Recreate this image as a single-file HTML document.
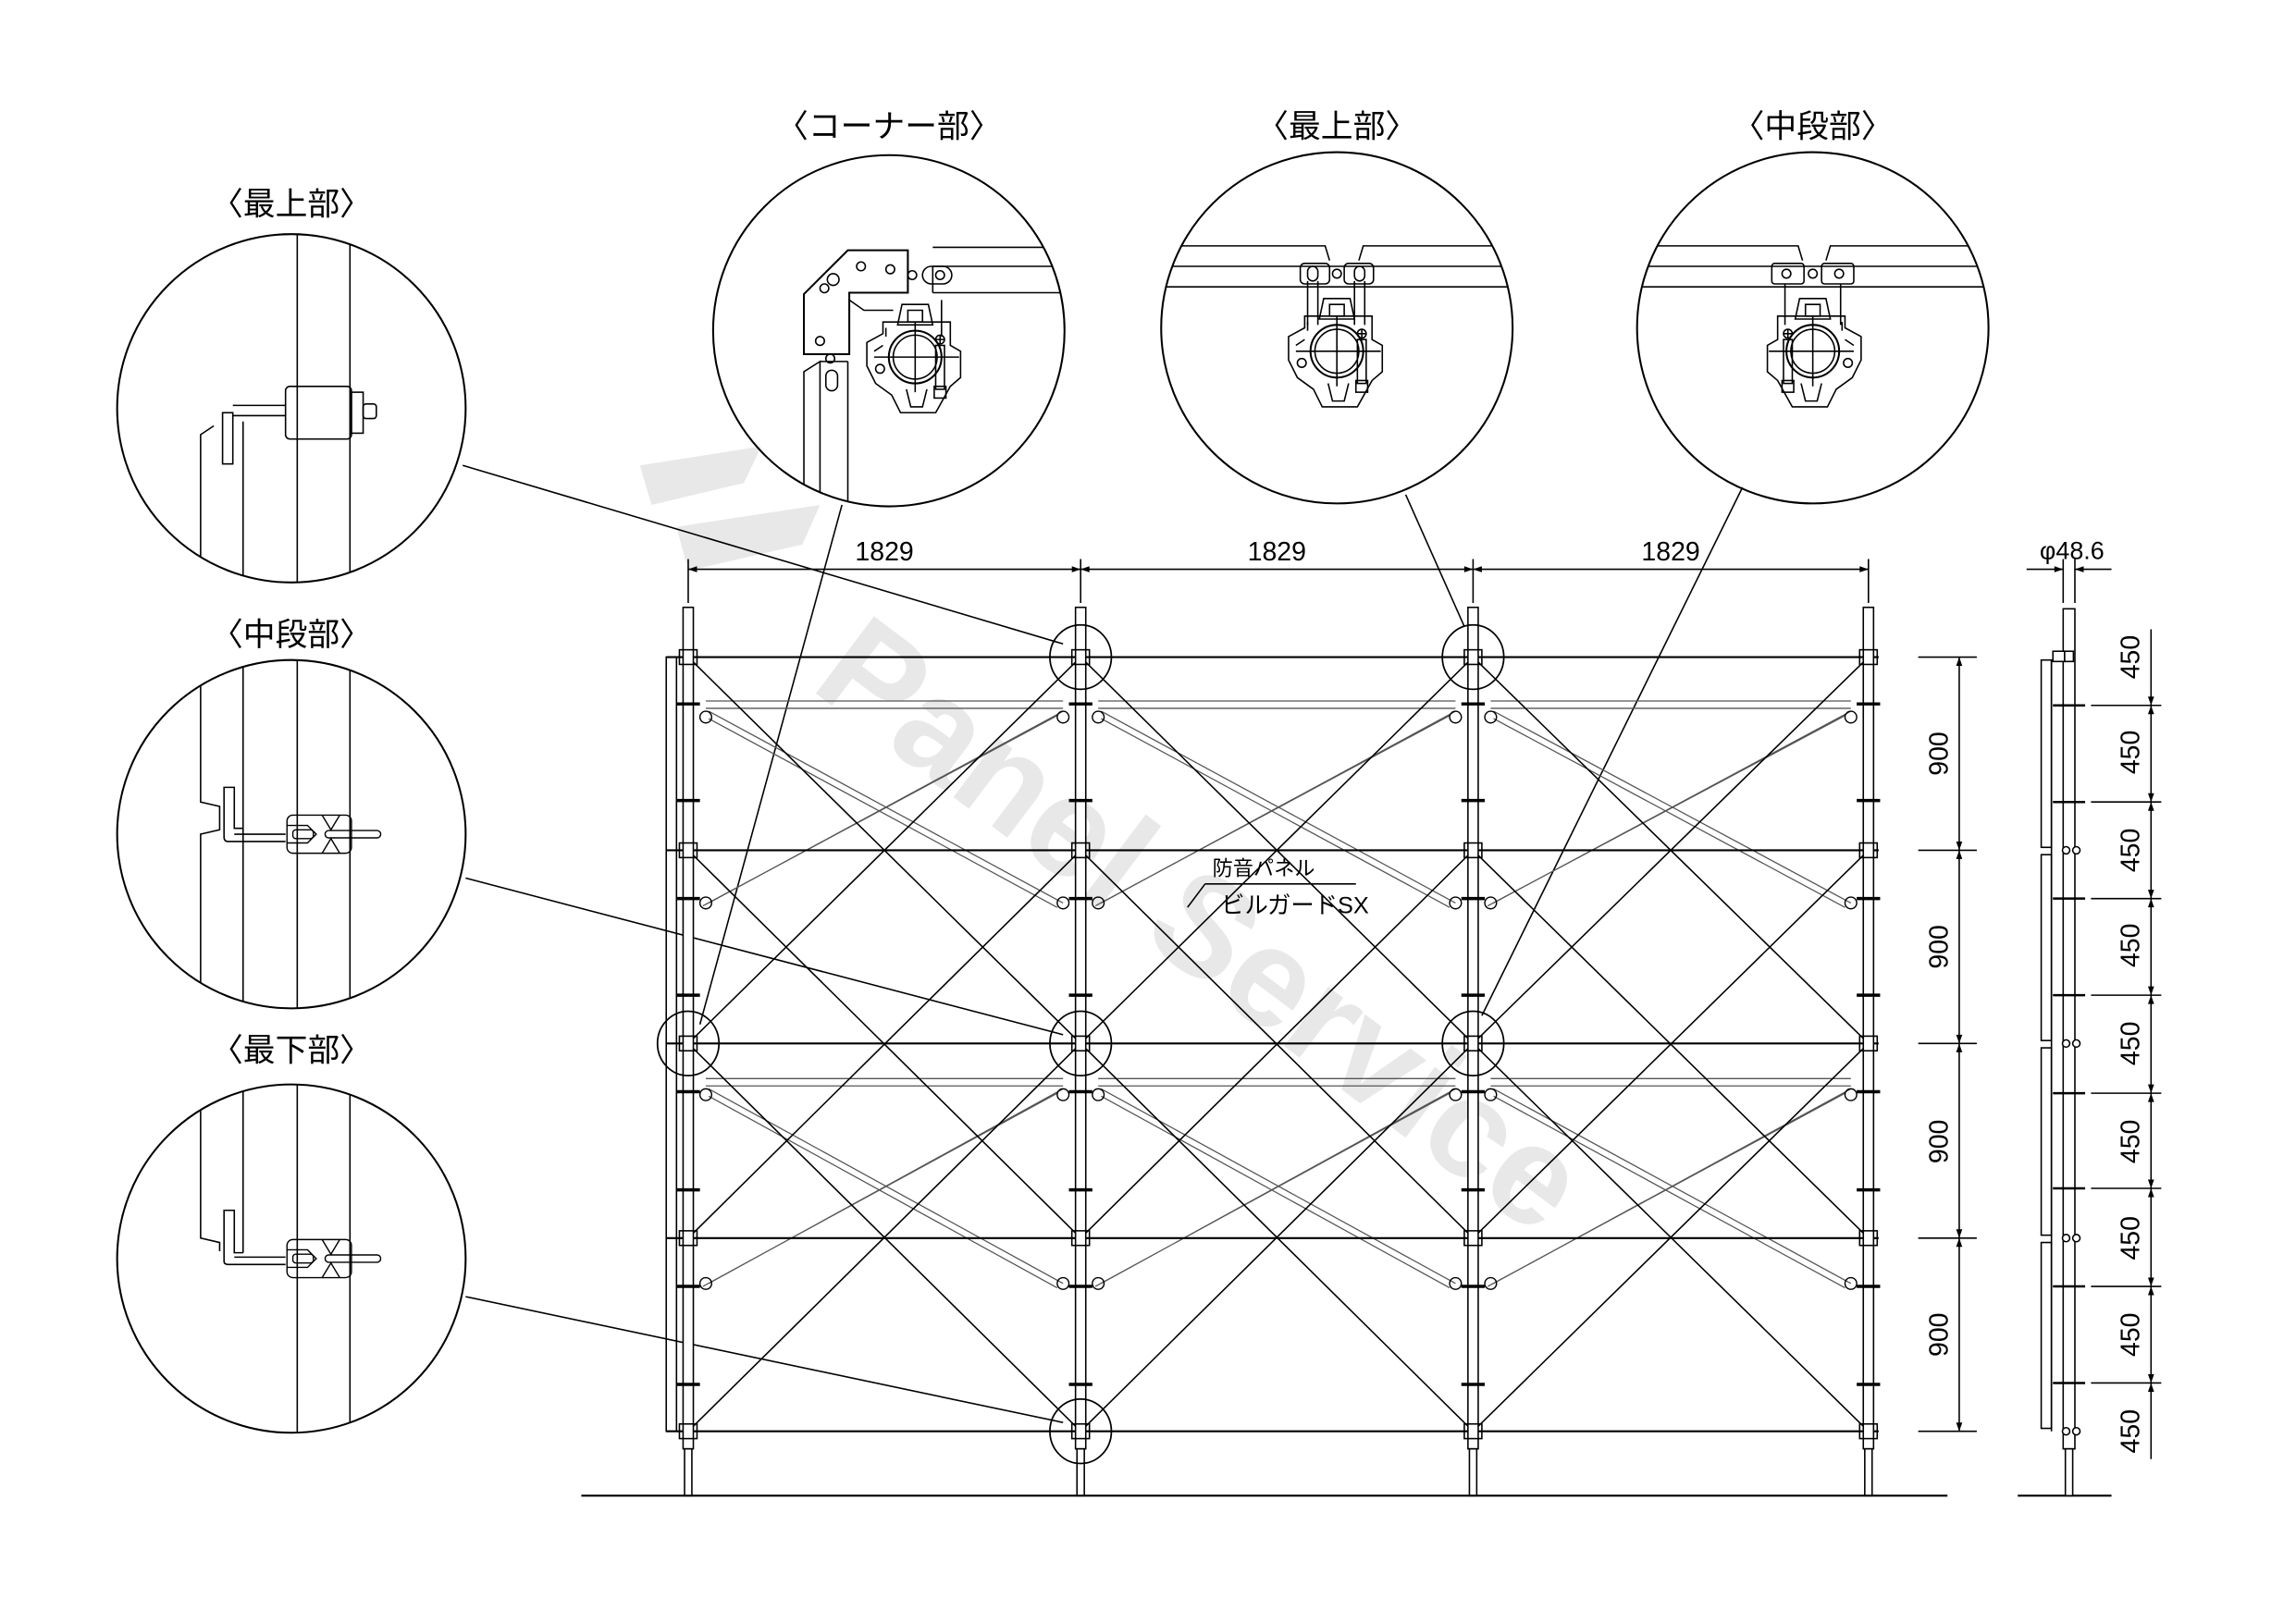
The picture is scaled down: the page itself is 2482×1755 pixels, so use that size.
<!DOCTYPE html>
<html><head><meta charset="utf-8"><style>
html,body{margin:0;padding:0;background:#fff;}
svg{display:block;}
text{font-family:"Liberation Sans","Noto Sans CJK JP",sans-serif;fill:#000;}
</style></head><body>
<svg width="2482" height="1755" viewBox="0 0 1568 1109" preserveAspectRatio="none" xmlns="http://www.w3.org/2000/svg">
<defs>
<marker id="ar" viewBox="0 0 10 10" refX="10" refY="5" markerWidth="9" markerHeight="6" orient="auto-start-reverse" markerUnits="userSpaceOnUse"><path d="M0,1.5 L10,5 L0,8.5 Z" fill="#000"/></marker>
<clipPath id="cA"><circle cx="199" cy="279" r="119"/></clipPath>
<clipPath id="cB"><circle cx="199" cy="570" r="119"/></clipPath>
<clipPath id="cC"><circle cx="199" cy="860" r="119"/></clipPath>
<clipPath id="cD"><circle cx="607" cy="226" r="120"/></clipPath>
<clipPath id="cE"><circle cx="913" cy="224" r="120"/></clipPath>
<clipPath id="cF"><circle cx="1238" cy="224" r="120"/></clipPath>
<g id="clamp" fill="none" stroke="#000" stroke-width="1">
<path d="M-9,-36 H9 L12,-22 H-12 Z"/>
<path d="M-5,-32 H5 V-24 H-5 Z"/>
<path d="M-22,-24 H24 V-8 L31,-4 V14 L24,20 L14,38 H-10 L-16,26 L-27,18 L-33,6 V-10 L-22,-16 Z"/>
<path d="M-20,-14 V-20 M-28,-4 L-22,-8"/>
<circle r="18" stroke-width="1.3"/><circle r="15"/>
<path d="M-28,0 H30 M0,-24 V24"/>
<circle cx="-24" cy="8" r="3"/>
<path d="M-6,22 L-3,34 H5 L8,22"/>
<rect x="14" y="-8" width="6" height="30"/>
<rect x="13" y="20" width="8" height="8"/>
<circle cx="17" cy="-12" r="3"/><path d="M14,-12 H20 M17,-15 V-9"/>
</g>
<g id="stub" fill="none" stroke="#000" stroke-width="0.9">
<rect x="-22" y="-13" width="44" height="26" rx="4"/>
<path d="M-22,-6 H-8 L-2,0 L-8,6 H-22 M2,-13 L8,-3 L14,-13 M2,13 L8,3 L14,13"/>
<rect x="-18" y="-3" width="14" height="6" rx="2"/>
<rect x="4" y="-2.5" width="38" height="5" rx="2.5"/>
</g>
</defs>

<!-- watermark -->
<g fill="#e8e8e8">
<path d="M437,318 L520,305 L508,330 L445,345 Z"/>
<path d="M462,360 L560,345 L548,372 L470,390 Z"/>
<text x="0" y="0" font-size="96" font-weight="bold" transform="translate(552,470) rotate(37)" style="fill:#e8e8e8">Panel Service</text>
</g>

<!-- titles -->
<g font-size="22" text-anchor="middle">
<text x="199" y="147">〈最上部〉</text>
<text x="199" y="441">〈中段部〉</text>
<text x="199" y="725">〈最下部〉</text>
<text x="607" y="94">〈コーナー部〉</text>
<text x="913" y="94">〈最上部〉</text>
<text x="1238" y="94">〈中段部〉</text>
</g>

<!-- detail circles -->
<g fill="none" stroke="#000" stroke-width="1.3">
<circle cx="199" cy="279" r="119"/>
<circle cx="199" cy="570" r="119"/>
<circle cx="199" cy="860" r="119"/>
<circle cx="607" cy="226" r="120"/>
<circle cx="913" cy="224" r="120"/>
<circle cx="1238" cy="224" r="120"/>
</g>

<!-- left top detail -->
<g clip-path="url(#cA)" fill="none" stroke="#000" stroke-width="1">
<path d="M137,400 V297 L146,291 M166,400 V288 M203,150 V400 M239,150 V400"/>
<rect x="152" y="282" width="7" height="35"/>
<path d="M159,277 H195 M159,284 H195"/>
<rect x="195" y="264" width="45" height="36" rx="3"/>
<rect x="240" y="268" width="8" height="28"/>
<rect x="248" y="276" width="9" height="10" rx="2"/>
</g>
<!-- left mid detail -->
<g clip-path="url(#cB)" fill="none" stroke="#000" stroke-width="1">
<path d="M137,440 V548 L150,551 V567 L137,570 V700 M166,440 V700 M203,440 V700 M239,440 V700"/>
<path d="M153,572 V538 H160 V566 H166 M153,572 Q153,575 156,575 H195 M160,570 H195"/>
<use href="#stub" x="218" y="570"/>
</g>
<!-- left bottom detail -->
<g clip-path="url(#cC)" fill="none" stroke="#000" stroke-width="1">
<path d="M137,730 V846 L150,849 V855 M166,730 V856 M203,730 V990 M239,730 V990"/>
<path d="M153,862 V827 H160 V856 H166 M153,862 Q153,864 156,864 H195 M160,859 H195"/>
<use href="#stub" x="218" y="860"/>
</g>
<!-- corner detail -->
<g clip-path="url(#cD)" fill="none" stroke="#000" stroke-width="1">
<path d="M549,201 L579,171 H620 V200 H580 V242 H549 Z" stroke-width="1.3"/>
<path d="M637,169 H730 M637,182 H730 M637,200 H730 M637,182 V200" />
<rect x="630" y="182" width="20" height="12" rx="6"/><circle cx="642" cy="188" r="3"/>
<circle cx="623" cy="188" r="3"/>
<circle cx="569" cy="191" r="4"/><circle cx="563" cy="197" r="3"/>
<circle cx="588" cy="182" r="3"/><circle cx="608" cy="184" r="3"/><circle cx="560" cy="233" r="3"/>
<path d="M580,205 L590,212 H610"/>
<path d="M549,360 V254 L560,247 V360 M579,360 V247 M560,247 H579"/>
<rect x="564" y="253" width="8" height="14" rx="4"/>
<circle cx="567" cy="245" r="3"/>
<path d="M643,205 V230"/>
<use href="#clamp" x="625" y="244"/>
</g>
<!-- top middle detail -->
<g clip-path="url(#cE)" fill="none" stroke="#000" stroke-width="1">
<path d="M780,168 H905 L908,178 M928,178 L931,168 H1040 M780,182 H1040 M780,196 H1040"/>
<rect x="888" y="180" width="20" height="14" rx="3"/><rect x="918" y="180" width="20" height="14" rx="3"/>
<rect x="893" y="182" width="7" height="10" rx="3.5"/><rect x="925" y="182" width="7" height="10" rx="3.5"/>
<circle cx="913" cy="187" r="3"/>
<path d="M893,192 V222 M900,192 V222 M925,192 V222 M932,192 V222"/>
<use href="#clamp" x="913" y="240"/>
</g>
<!-- top right detail -->
<g clip-path="url(#cF)" fill="none" stroke="#000" stroke-width="1">
<path d="M1105,168 H1228 L1231,178 M1247,178 L1250,168 H1365 M1105,182 H1365 M1105,196 H1365"/>
<rect x="1210" y="180" width="22" height="14" rx="2"/><rect x="1244" y="180" width="22" height="14" rx="2"/>
<circle cx="1220" cy="187" r="3"/><circle cx="1256" cy="187" r="3"/>
<circle cx="1238" cy="187" r="3"/>
<path d="M1219,194 V222 M1257,194 V222"/>
<use href="#clamp" x="1238" y="240" transform="translate(2476,0) scale(-1,1)"/>
</g>

<!-- leader lines -->
<g stroke="#000" stroke-width="1" fill="none">
<path d="M316,318 L726,440"/>
<path d="M318,600 L726,707"/>
<path d="M318,886 L726,972"/>
<path d="M575,345 L478,700"/>
<path d="M960,338 L1000,428"/>
<path d="M1190,333 L1012,694"/>
</g>

<!-- braces (light double lines) -->
<g stroke="#555" stroke-width="0.8" fill="none">
<path d="M482,479 H726 M482,484 H726 M750,479 H994 M750,484 H994 M1018,479 H1264 M1018,484 H1264"/>
<path d="M482,737 H726 M482,742 H726 M750,737 H994 M750,742 H994 M1018,737 H1264 M1018,742 H1264"/>
<path d="M484,486 L726,617 M484,491 L722,620 M726,486 L484,617 M722,489 L480,619"/>
<path d="M752,486 L994,617 M752,491 L990,620 M994,486 L752,617 M990,489 L748,619"/>
<path d="M1020,486 L1264,617 M1020,491 L1260,620 M1264,486 L1020,617 M1260,489 L1016,619"/>
<path d="M484,744 L726,877 M484,749 L722,880 M726,744 L484,877 M722,747 L480,879"/>
<path d="M752,744 L994,877 M752,749 L990,880 M994,744 L752,877 M990,747 L748,879"/>
<path d="M1020,744 L1264,877 M1020,749 L1260,880 M1264,744 L1020,877 M1260,747 L1016,879"/>
</g>

<!-- big X diagonals -->
<g stroke="#000" stroke-width="1" fill="none">
<path d="M470,449 L738,713 M738,449 L470,713 M470,581 L738,846 M738,581 L470,846 M470,713 L738,978 M738,713 L470,978"/>
<path d="M738,449 L1006,713 M1006,449 L738,713 M738,581 L1006,846 M1006,581 L738,846 M738,713 L1006,978 M1006,713 L738,978"/>
<path d="M1006,449 L1276,713 M1276,449 L1006,713 M1006,581 L1276,846 M1276,581 L1006,846 M1006,713 L1276,978 M1276,713 L1006,978"/>
</g>

<!-- rails -->
<g stroke="#000" stroke-width="1.4">
<path d="M455,449 H1283 M455,581 H1283 M455,713 H1283 M455,846 H1283 M455,978 H1283"/>
</g>

<!-- left panel edge -->
<rect x="455" y="449" width="7" height="529" fill="none" stroke="#000" stroke-width="1"/>

<!-- posts -->
<g fill="#fff" stroke="#000" stroke-width="1">
<rect x="466.5" y="415" width="7" height="575"/>
<rect x="734.5" y="415" width="7" height="575"/>
<rect x="1002.5" y="415" width="7" height="575"/>
<rect x="1272.5" y="415" width="7" height="575"/>
<rect x="467.5" y="990" width="5" height="32"/>
<rect x="735.5" y="990" width="5" height="32"/>
<rect x="1003.5" y="990" width="5" height="32"/>
<rect x="1273.5" y="990" width="5" height="32"/>
</g>
<!-- joints -->
<g fill="none" stroke="#000" stroke-width="1">
<rect x="464" y="444" width="12" height="10"/><rect x="732" y="444" width="12" height="10"/><rect x="1000" y="444" width="12" height="10"/><rect x="1270" y="444" width="12" height="10"/>
<rect x="464" y="576" width="12" height="10"/><rect x="732" y="576" width="12" height="10"/><rect x="1000" y="576" width="12" height="10"/><rect x="1270" y="576" width="12" height="10"/>
<rect x="464" y="708" width="12" height="10"/><rect x="732" y="708" width="12" height="10"/><rect x="1000" y="708" width="12" height="10"/><rect x="1270" y="708" width="12" height="10"/>
<rect x="464" y="841" width="12" height="10"/><rect x="732" y="841" width="12" height="10"/><rect x="1000" y="841" width="12" height="10"/><rect x="1270" y="841" width="12" height="10"/>
<rect x="464" y="973" width="12" height="10"/><rect x="732" y="973" width="12" height="10"/><rect x="1000" y="973" width="12" height="10"/><rect x="1270" y="973" width="12" height="10"/>
</g>
<!-- ticks -->
<g stroke="#000" stroke-width="2.2">
<path d="M462,481 H478 M730,481 H746 M998,481 H1014 M1268,481 H1284
M462,547 H478 M730,547 H746 M998,547 H1014 M1268,547 H1284
M462,614 H478 M730,614 H746 M998,614 H1014 M1268,614 H1284
M462,680 H478 M730,680 H746 M998,680 H1014 M1268,680 H1284
M462,746 H478 M730,746 H746 M998,746 H1014 M1268,746 H1284
M462,813 H478 M730,813 H746 M998,813 H1014 M1268,813 H1284
M462,879 H478 M730,879 H746 M998,879 H1014 M1268,879 H1284
M462,946 H478 M730,946 H746 M998,946 H1014 M1268,946 H1284"/>
</g>
<!-- brace end fittings -->
<g fill="none" stroke="#000" stroke-width="0.9">
<circle cx="482" cy="490" r="4"/><circle cx="726" cy="490" r="4"/><circle cx="750" cy="490" r="4"/><circle cx="994" cy="490" r="4"/><circle cx="1018" cy="490" r="4"/><circle cx="1264" cy="490" r="4"/>
<circle cx="482" cy="617" r="4"/><circle cx="726" cy="617" r="4"/><circle cx="750" cy="617" r="4"/><circle cx="994" cy="617" r="4"/><circle cx="1018" cy="617" r="4"/><circle cx="1264" cy="617" r="4"/>
<circle cx="482" cy="748" r="4"/><circle cx="726" cy="748" r="4"/><circle cx="750" cy="748" r="4"/><circle cx="994" cy="748" r="4"/><circle cx="1018" cy="748" r="4"/><circle cx="1264" cy="748" r="4"/>
<circle cx="482" cy="877" r="4"/><circle cx="726" cy="877" r="4"/><circle cx="750" cy="877" r="4"/><circle cx="994" cy="877" r="4"/><circle cx="1018" cy="877" r="4"/><circle cx="1264" cy="877" r="4"/>
</g>

<!-- small ellipses -->
<g fill="none" stroke="#000" stroke-width="1.1">
<ellipse cx="738" cy="449" rx="21" ry="22"/>
<ellipse cx="1006" cy="449" rx="21" ry="22"/>
<ellipse cx="470" cy="713" rx="21" ry="22"/>
<ellipse cx="738" cy="713" rx="21" ry="22"/>
<ellipse cx="1006" cy="713" rx="21" ry="22"/>
<ellipse cx="738" cy="978" rx="21" ry="22"/>
</g>

<!-- ground -->
<path d="M397,1022 H1330 M1378,1022 H1442" stroke="#000" stroke-width="1.3"/>

<!-- top dimension -->
<g stroke="#000" stroke-width="1" fill="none">
<path d="M470,382 V412 M738,382 V412 M1006,382 V412 M1276,382 V412"/>
<path d="M470,389 H738" marker-start="url(#ar)" marker-end="url(#ar)"/>
<path d="M738,389 H1006" marker-start="url(#ar)" marker-end="url(#ar)"/>
<path d="M1006,389 H1276" marker-start="url(#ar)" marker-end="url(#ar)"/>
</g>
<g font-size="18" text-anchor="middle">
<text x="604" y="383">1829</text><text x="872" y="383">1829</text><text x="1141" y="383">1829</text>
</g>

<!-- right dimension 900 -->
<g stroke="#000" stroke-width="1" fill="none">
<path d="M1310,449 H1350 M1310,581 H1350 M1310,713 H1350 M1310,846 H1350 M1310,978 H1350"/>
<path d="M1338,449 V581" marker-start="url(#ar)" marker-end="url(#ar)"/>
<path d="M1338,581 V713" marker-start="url(#ar)" marker-end="url(#ar)"/>
<path d="M1338,713 V846" marker-start="url(#ar)" marker-end="url(#ar)"/>
<path d="M1338,846 V978" marker-start="url(#ar)" marker-end="url(#ar)"/>
</g>
<g font-size="18" text-anchor="middle">
<text transform="translate(1330,515) rotate(-90)">900</text>
<text transform="translate(1330,647) rotate(-90)">900</text>
<text transform="translate(1330,780) rotate(-90)">900</text>
<text transform="translate(1330,912) rotate(-90)">900</text>
</g>

<!-- side view -->
<g fill="#fff" stroke="#000" stroke-width="1">
<rect x="1409" y="416" width="8" height="574"/>
<rect x="1410.5" y="990" width="5" height="32"/>
<rect x="1394" y="451" width="7" height="128"/>
<rect x="1394" y="584" width="7" height="127"/>
<rect x="1394" y="716" width="7" height="128"/>
<rect x="1394" y="849" width="7" height="127"/>
<path d="M1401,451 V978" fill="none"/>
<rect x="1402" y="445" width="8" height="7"/><rect x="1410" y="445" width="6" height="7"/>
</g>
<g fill="#fff" stroke="#000" stroke-width="1">
<circle cx="1411" cy="581" r="2.5"/><circle cx="1418" cy="581" r="2.5"/>
<circle cx="1411" cy="713" r="2.5"/><circle cx="1418" cy="713" r="2.5"/>
<circle cx="1411" cy="846" r="2.5"/><circle cx="1418" cy="846" r="2.5"/>
<circle cx="1411" cy="978" r="2.5"/><circle cx="1418" cy="978" r="2.5"/>
</g>
<g stroke="#000" stroke-width="1" fill="none">
<path d="M1402,482 H1424 M1402,548 H1424 M1402,614 H1424 M1402,680 H1424 M1402,747 H1424 M1402,812 H1424 M1402,879 H1424 M1402,945 H1424" stroke-width="1.6"/>
<path d="M1428,482 H1476 M1428,548 H1476 M1428,614 H1476 M1428,680 H1476 M1428,747 H1476 M1428,812 H1476 M1428,879 H1476 M1428,945 H1476"/>
<path d="M1469,430 V482" marker-end="url(#ar)"/>
<path d="M1469,482 V548" marker-start="url(#ar)" marker-end="url(#ar)"/>
<path d="M1469,548 V614" marker-start="url(#ar)" marker-end="url(#ar)"/>
<path d="M1469,614 V680" marker-start="url(#ar)" marker-end="url(#ar)"/>
<path d="M1469,680 V747" marker-start="url(#ar)" marker-end="url(#ar)"/>
<path d="M1469,747 V812" marker-start="url(#ar)" marker-end="url(#ar)"/>
<path d="M1469,812 V879" marker-start="url(#ar)" marker-end="url(#ar)"/>
<path d="M1469,879 V945" marker-start="url(#ar)" marker-end="url(#ar)"/>
<path d="M1469,997 V945" marker-end="url(#ar)"/>
<path d="M1409,382 V412 M1417,382 V412"/>
<path d="M1384,389 H1409" marker-end="url(#ar)"/>
<path d="M1442,389 H1417" marker-end="url(#ar)"/>
</g>
<text x="1415" y="382" font-size="17" text-anchor="middle">φ48.6</text>
<g font-size="18" text-anchor="middle">
<text transform="translate(1461,449) rotate(-90)">450</text>
<text transform="translate(1461,514) rotate(-90)">450</text>
<text transform="translate(1461,581) rotate(-90)">450</text>
<text transform="translate(1461,646) rotate(-90)">450</text>
<text transform="translate(1461,713) rotate(-90)">450</text>
<text transform="translate(1461,780) rotate(-90)">450</text>
<text transform="translate(1461,846) rotate(-90)">450</text>
<text transform="translate(1461,912) rotate(-90)">450</text>
<text transform="translate(1461,978) rotate(-90)">450</text>
</g>

<!-- panel label -->
<text x="828" y="598" font-size="14">防音パネル</text>
<text x="834" y="624" font-size="16">ビルガードSX</text>
<path d="M823,604 H926 M823,604 L811,620" stroke="#000" stroke-width="1" fill="none"/>
</svg>
</body></html>
